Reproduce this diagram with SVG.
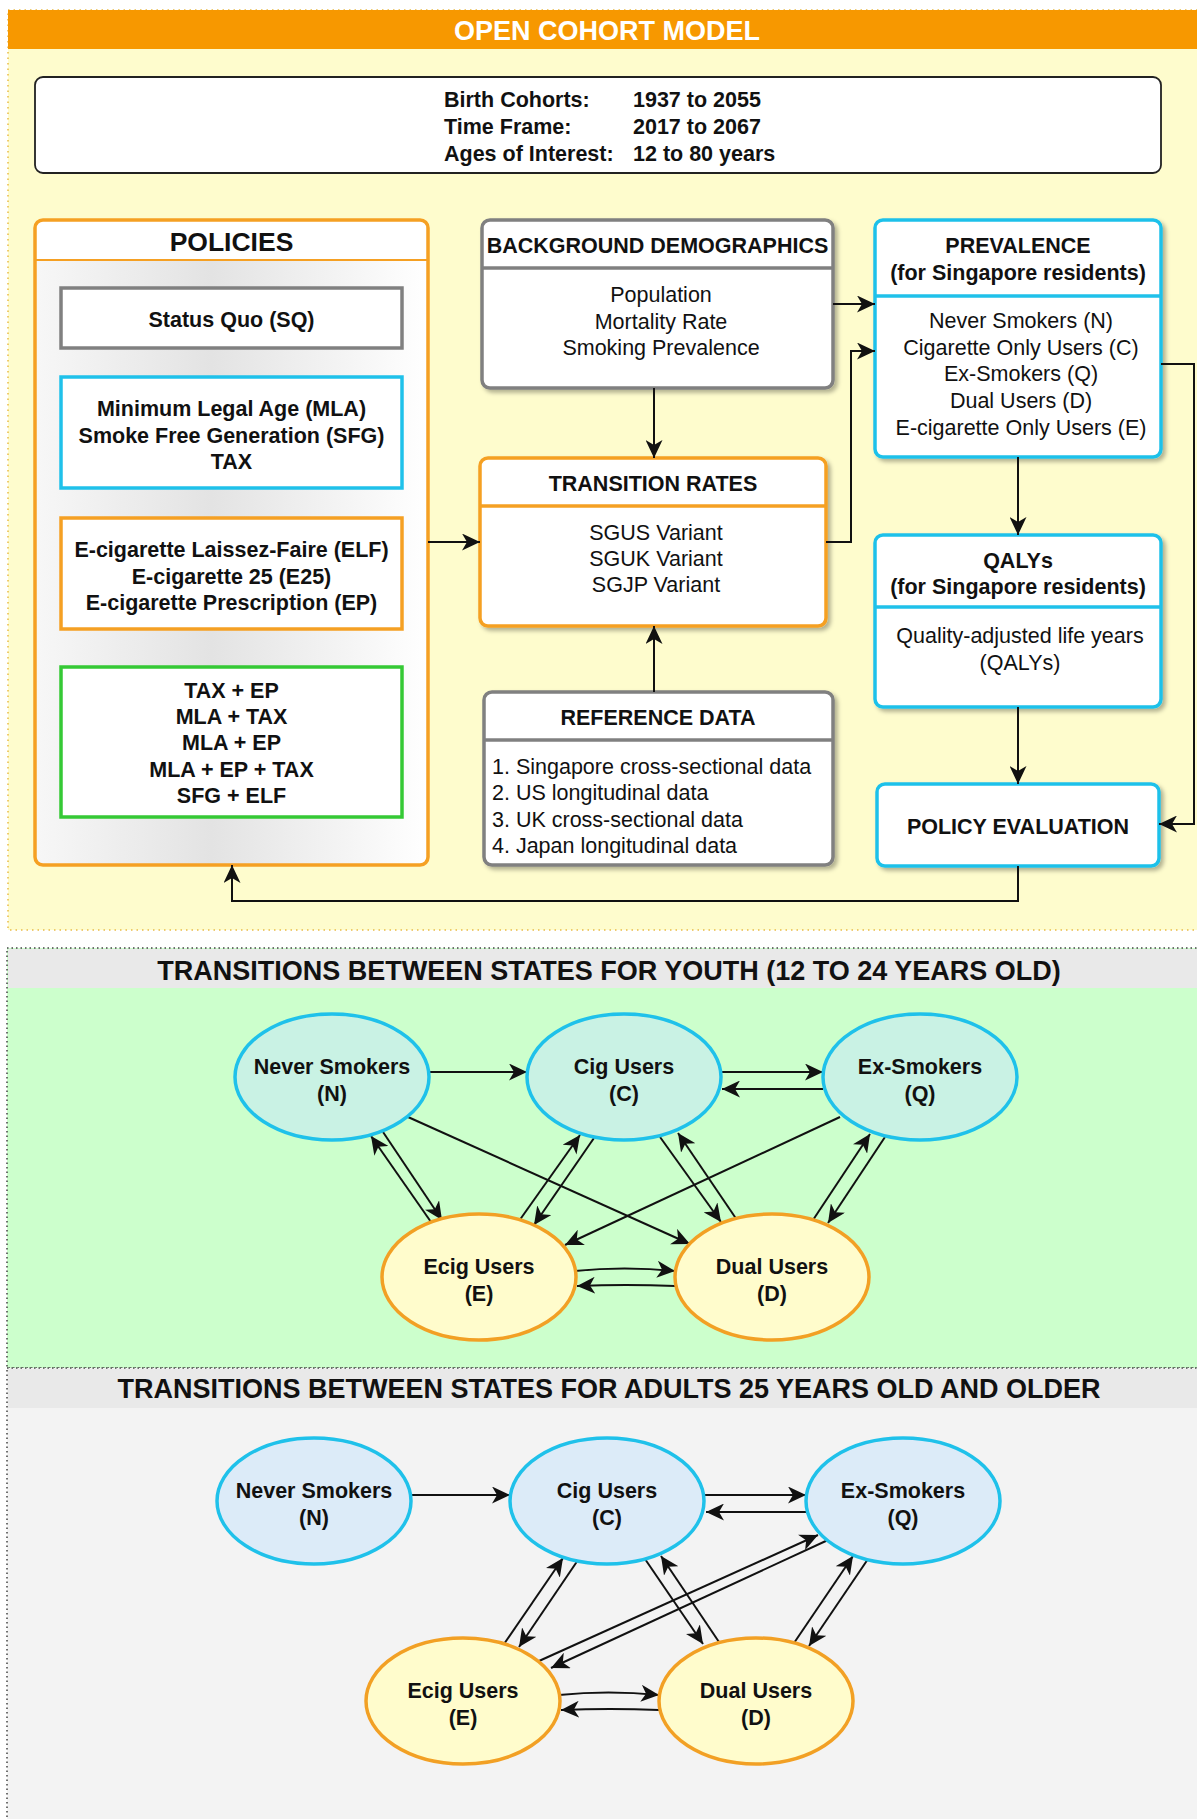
<svg xmlns="http://www.w3.org/2000/svg" width="1197" height="1819" viewBox="0 0 1197 1819">
<defs>
<style>
text{font-family:"Liberation Sans",Arial,Helvetica,sans-serif;fill:#111;}
.b{font-weight:bold;font-size:21.5px;}
.r{font-size:21.5px;}
.c{text-anchor:middle;}
.t{font-weight:bold;font-size:27px;text-anchor:middle;}
.box{fill:#fff;stroke-width:3.5;}
.gray{stroke:#808080;}
.cyan{stroke:#1fc1ea;}
.orng{stroke:#f5a023;}
.grn{stroke:#35c935;}
.ln{fill:none;stroke:#111;stroke-width:2;}
.al{fill:none;stroke:#111;stroke-width:2;marker-end:url(#ah);}
.top1{fill:#c9f2e4;stroke:#1fc1ea;stroke-width:3.5;}
.top2{fill:#dcebf8;stroke:#1fc1ea;stroke-width:3.5;}
.bot{fill:#fffccc;stroke:#f2a024;stroke-width:3.5;}
</style>
<marker id="ah" markerUnits="userSpaceOnUse" markerWidth="19" markerHeight="17" refX="18" refY="8.5" orient="auto">
<path d="M0,0 L18,8.5 L0,17 L5,8.5 z" fill="#111"/>
</marker>
<linearGradient id="pg" x1="0" y1="0" x2="1" y2="0">
<stop offset="0" stop-color="#f7f7f7"/>
<stop offset="0.45" stop-color="#e3e3e3"/>
<stop offset="1" stop-color="#ffffff"/>
</linearGradient>
<filter id="sh" x="-10%" y="-10%" width="125%" height="125%">
<feDropShadow dx="3" dy="3" stdDeviation="2" flood-color="#000" flood-opacity="0.3"/>
</filter>
</defs>

<g id="panels">
<rect x="8" y="10" width="1200" height="920" fill="#fefccd" stroke="#e9bb45" stroke-width="1.5" stroke-dasharray="1.5 4"/>
<rect x="8" y="10" width="1200" height="39" fill="#f79800"/>
<text x="607" y="39.5" class="t" style="fill:#fff">OPEN COHORT MODEL</text>

<rect x="7" y="948" width="1200" height="420" fill="#ccffcc" stroke="#444" stroke-width="1.5" stroke-dasharray="1.5 3"/>
<rect x="8" y="949" width="1200" height="39" fill="#e9e9e9"/>
<text x="609" y="979.5" class="t">TRANSITIONS BETWEEN STATES FOR YOUTH (12 TO 24 YEARS OLD)</text>

<rect x="7" y="1368" width="1200" height="460" fill="#f3f3f3" stroke="#444" stroke-width="1.5" stroke-dasharray="1.5 3"/>
<rect x="8" y="1369" width="1200" height="39" fill="#e9e9e9"/>
<text x="609" y="1398" class="t">TRANSITIONS BETWEEN STATES FOR ADULTS 25 YEARS OLD AND OLDER</text>
</g>

<g id="info">
<rect x="35" y="77" width="1126" height="96" rx="8" fill="#fff" stroke="#222" stroke-width="1.8"/>
<text class="b" x="444" y="106.5">Birth Cohorts:</text>
<text class="b" x="633" y="106.5">1937 to 2055</text>
<text class="b" x="444" y="133.5">Time Frame:</text>
<text class="b" x="633" y="133.5">2017 to 2067</text>
<text class="b" x="444" y="160.5">Ages of Interest:</text>
<text class="b" x="633" y="160.5">12 to 80 years</text>
</g>

<g id="policies">
<rect x="35" y="220" width="393" height="645" rx="8" fill="url(#pg)"/>
<path d="M35,260 V228 a8,8 0 0 1 8,-8 H420 a8,8 0 0 1 8,8 V260 z" fill="#fff"/>
<line x1="35" y1="260" x2="428" y2="260" stroke="#f5a023" stroke-width="2"/>
<rect x="35" y="220" width="393" height="645" rx="8" fill="none" stroke="#f5a023" stroke-width="3.5"/>
<text class="b c" x="231.5" y="251" style="font-size:26.5px">POLICIES</text>
</g>

<g id="sq">
<rect class="box gray" x="61" y="288" width="341" height="60"/>
<text class="b c" x="231.5" y="326.5">Status Quo (SQ)</text>
</g>
<g id="mla">
<rect class="box cyan" x="61" y="377" width="341" height="111"/>
<text class="b c" x="231.5" y="415.5">Minimum Legal Age (MLA)</text>
<text class="b c" x="231.5" y="442.5">Smoke Free Generation (SFG)</text>
<text class="b c" x="231.5" y="468.5">TAX</text>
</g>
<g id="ecig">
<rect class="box orng" x="61" y="518" width="341" height="111"/>
<text class="b c" x="231.5" y="556.5">E-cigarette Laissez-Faire (ELF)</text>
<text class="b c" x="231.5" y="583.5">E-cigarette 25 (E25)</text>
<text class="b c" x="231.5" y="609.5">E-cigarette Prescription (EP)</text>
</g>
<g id="combos">
<rect class="box grn" x="61" y="667" width="341" height="150"/>
<text class="b c" x="231.5" y="697.5">TAX + EP</text>
<text class="b c" x="231.5" y="723.5">MLA + TAX</text>
<text class="b c" x="231.5" y="749.5">MLA + EP</text>
<text class="b c" x="231.5" y="776.5">MLA + EP + TAX</text>
<text class="b c" x="231.5" y="802.5">SFG + ELF</text>
</g>

<g id="background">
<rect class="box gray" x="482" y="220" width="351" height="168" rx="8" filter="url(#sh)"/>
<line x1="482" y1="268" x2="833" y2="268" stroke="#808080" stroke-width="3.5"/>
<text class="b c" x="657.5" y="252.5">BACKGROUND DEMOGRAPHICS</text>
<text class="r c" x="661" y="301.5">Population</text>
<text class="r c" x="661" y="328.5">Mortality Rate</text>
<text class="r c" x="661" y="354.5">Smoking Prevalence</text>
</g>

<g id="transition">
<rect class="box orng" x="480" y="458" width="346" height="168" rx="8" filter="url(#sh)"/>
<line x1="480" y1="506" x2="826" y2="506" stroke="#f5a023" stroke-width="3.5"/>
<text class="b c" x="653" y="490.5">TRANSITION RATES</text>
<text class="r c" x="656" y="539.5">SGUS Variant</text>
<text class="r c" x="656" y="565.5">SGUK Variant</text>
<text class="r c" x="656" y="591.5">SGJP Variant</text>
</g>

<g id="reference">
<rect class="box gray" x="484" y="692" width="349" height="173" rx="8" filter="url(#sh)"/>
<line x1="484" y1="740" x2="833" y2="740" stroke="#808080" stroke-width="3.5"/>
<text class="b c" x="658" y="724.5">REFERENCE DATA</text>
<text class="r" x="492" y="773.5">1. Singapore cross-sectional data</text>
<text class="r" x="492" y="799.5">2. US longitudinal data</text>
<text class="r" x="492" y="826.5">3. UK cross-sectional data</text>
<text class="r" x="492" y="852.5">4. Japan longitudinal data</text>
</g>

<g id="prevalence">
<rect class="box cyan" x="875" y="220" width="286" height="237" rx="8" filter="url(#sh)"/>
<line x1="875" y1="296" x2="1161" y2="296" stroke="#1fc1ea" stroke-width="3.5"/>
<text class="b c" x="1018" y="252.5">PREVALENCE</text>
<text class="b c" x="1018" y="279.5">(for Singapore residents)</text>
<text class="r c" x="1021" y="327.5">Never Smokers (N)</text>
<text class="r c" x="1021" y="354.5">Cigarette Only Users (C)</text>
<text class="r c" x="1021" y="380.5">Ex-Smokers (Q)</text>
<text class="r c" x="1021" y="407.5">Dual Users (D)</text>
<text class="r c" x="1021" y="434.5">E-cigarette Only Users (E)</text>
</g>

<g id="qalys">
<rect class="box cyan" x="875" y="535" width="286" height="172" rx="8" filter="url(#sh)"/>
<line x1="875" y1="607" x2="1161" y2="607" stroke="#1fc1ea" stroke-width="3.5"/>
<text class="b c" x="1018" y="567.5">QALYs</text>
<text class="b c" x="1018" y="593.5">(for Singapore residents)</text>
<text class="r c" x="1020" y="642.5">Quality-adjusted life years</text>
<text class="r c" x="1020" y="669.5">(QALYs)</text>
</g>

<g id="evaluation">
<rect class="box cyan" x="877" y="784" width="282" height="82" rx="8" filter="url(#sh)"/>
<text class="b c" x="1018" y="833.5">POLICY EVALUATION</text>
</g>

<g id="connectors">
<path class="al" d="M833,304 H875"/>
<path class="al" d="M826,542 H851 V351 H875"/>
<path class="al" d="M654,388 V458"/>
<path class="al" d="M654,692 V626"/>
<path class="al" d="M428,542 H480"/>
<path class="al" d="M1018,457 V535"/>
<path class="al" d="M1018,707 V784"/>
<path class="al" d="M1161,364 H1194 V824 H1159"/>
<path class="al" d="M1018,866 V901 H232 V865"/>

<path class="al" d="M429,1072 L527,1072"/>
<path class="al" d="M722,1072 L823,1072"/>
<path class="al" d="M823,1089 L722,1089"/>
<path class="al" d="M383,1132 L442,1220"/>
<path class="al" d="M431,1222 L371,1136"/>
<path class="al" d="M408,1117 L690,1244"/>
<path class="al" d="M519,1221 L580,1135"/>
<path class="al" d="M594,1138 L534,1225"/>
<path class="al" d="M840,1117 L565,1245"/>
<path class="al" d="M660,1137 L721,1222"/>
<path class="al" d="M737,1220 L678,1133"/>
<path class="al" d="M813,1220 L870,1134"/>
<path class="al" d="M885,1137 L828,1223"/>
<path class="al" d="M575,1271 Q624,1266 675,1271"/>
<path class="al" d="M675,1286 Q626,1284 577,1286"/>

<path class="al" d="M411,1495 L510,1495"/>
<path class="al" d="M703,1495 L806,1495"/>
<path class="al" d="M806,1512 L706,1512"/>
<path class="al" d="M504,1644 L563,1558"/>
<path class="al" d="M578,1560 L519,1647"/>
<path class="al" d="M645,1559 L703,1644"/>
<path class="al" d="M719,1642 L661,1556"/>
<path class="al" d="M794,1643 L853,1556"/>
<path class="al" d="M868,1559 L809,1646"/>
<path class="al" d="M539,1661 L818,1535"/>
<path class="al" d="M828,1540 L551,1668"/>
<path class="al" d="M559,1695 Q608,1690 659,1695"/>
<path class="al" d="M659,1710 Q610,1708 561,1710"/>
</g>

<g id="yN"><ellipse class="top1" cx="332" cy="1077" rx="97" ry="63"/>
<text class="b c" x="332" y="1073.5">Never Smokers</text><text class="b c" x="332" y="1100.5">(N)</text></g>
<g id="yC"><ellipse class="top1" cx="624" cy="1077" rx="97" ry="63"/>
<text class="b c" x="624" y="1073.5">Cig Users</text><text class="b c" x="624" y="1100.5">(C)</text></g>
<g id="yQ"><ellipse class="top1" cx="920" cy="1077" rx="97" ry="63"/>
<text class="b c" x="920" y="1073.5">Ex-Smokers</text><text class="b c" x="920" y="1100.5">(Q)</text></g>
<g id="yE"><ellipse class="bot" cx="479" cy="1277" rx="97" ry="63"/>
<text class="b c" x="479" y="1273.5">Ecig Users</text><text class="b c" x="479" y="1300.5">(E)</text></g>
<g id="yD"><ellipse class="bot" cx="772" cy="1277" rx="97" ry="63"/>
<text class="b c" x="772" y="1273.5">Dual Users</text><text class="b c" x="772" y="1300.5">(D)</text></g>

<g id="aN"><ellipse class="top2" cx="314" cy="1501" rx="97" ry="63"/>
<text class="b c" x="314" y="1497.5">Never Smokers</text><text class="b c" x="314" y="1524.5">(N)</text></g>
<g id="aC"><ellipse class="top2" cx="607" cy="1501" rx="97" ry="63"/>
<text class="b c" x="607" y="1497.5">Cig Users</text><text class="b c" x="607" y="1524.5">(C)</text></g>
<g id="aQ"><ellipse class="top2" cx="903" cy="1501" rx="97" ry="63"/>
<text class="b c" x="903" y="1497.5">Ex-Smokers</text><text class="b c" x="903" y="1524.5">(Q)</text></g>
<g id="aE"><ellipse class="bot" cx="463" cy="1701" rx="97" ry="63"/>
<text class="b c" x="463" y="1697.5">Ecig Users</text><text class="b c" x="463" y="1724.5">(E)</text></g>
<g id="aD"><ellipse class="bot" cx="756" cy="1701" rx="97" ry="63"/>
<text class="b c" x="756" y="1697.5">Dual Users</text><text class="b c" x="756" y="1724.5">(D)</text></g>
</svg>
